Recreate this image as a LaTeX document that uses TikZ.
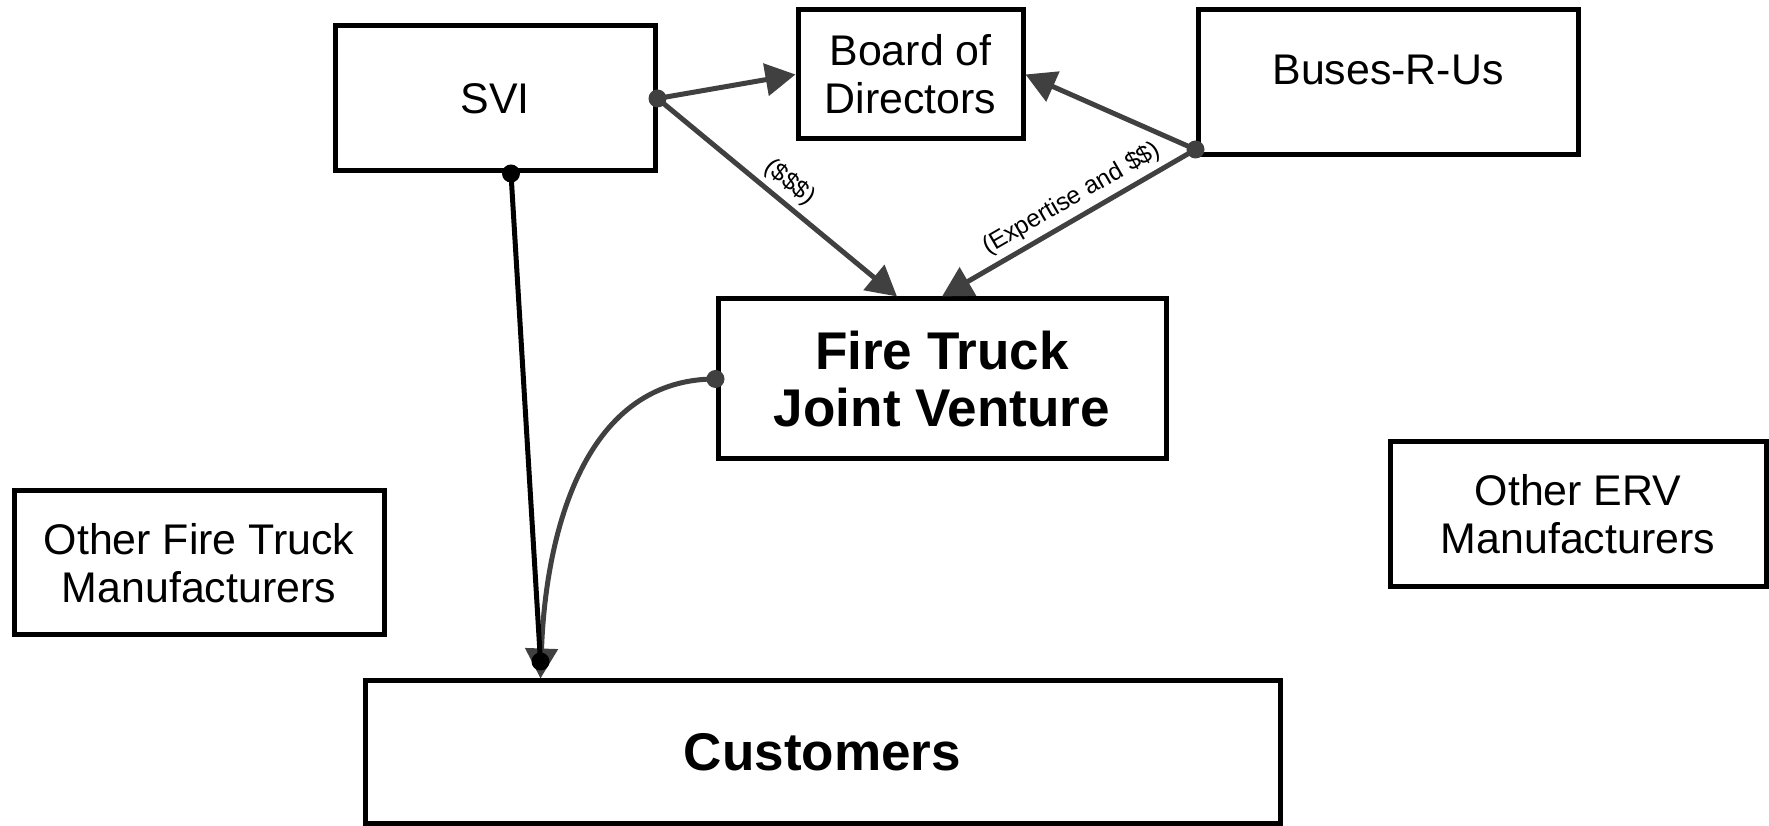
\documentclass[tikz,border=0pt]{standalone}
\usepackage{fontspec}
\setmainfont{Liberation Sans}
\usetikzlibrary{calc,arrows.meta}

\definecolor{linkgray}{HTML}{404040}

\tikzset{
  box/.style={draw=black, line width=0.05cm, inner sep=0pt, align=center,
    font=\fontsize{12.2}{13.6}\selectfont},
  boxtext/.style={inner sep=0pt, font=\fontsize{12.2}{13.6}\selectfont},
  bigbox/.style={box, font=\bfseries\fontsize{15.1}{16.4}\selectfont},
  link/.style={draw=linkgray, line width=0.05cm,
    -{Triangle[length=0.3cm,width=0.32cm]}},
  tag/.style={font=\fontsize{7}{8}\selectfont, sloped, above, inner sep=1.5pt}
}

\begin{document}
\begin{tikzpicture}
\useasboundingbox (0,0) rectangle (17.69,8.26);

 \node [box, minimum width=3.2cm, minimum height=1.45cm] (svi) at (4.95,7.275) {SVI};
 \node [box, minimum width=2.25cm, minimum height=1.29cm] (board) at (9.105,7.515) {Board of\\Directors};
 \node [box, minimum width=3.8cm, minimum height=1.45cm] (buses) at (13.88,7.435) {};
 \node [boxtext] (busestext) at ($(buses.center)+(0,0.125)$) {Buses-R-Us};

 \node [bigbox, minimum width=4.48cm, minimum height=1.6cm] (ftjv) at (9.42,4.47) {Fire Truck\\Joint Venture};

 \node [box, minimum width=3.7cm, minimum height=1.44cm] (otherft) at (1.99,2.63) {Other Fire Truck\\Manufacturers};
 \node [box, minimum width=3.76cm, minimum height=1.45cm] (othererv) at (15.78,3.115) {Other ERV\\Manufacturers};

 \node [bigbox, minimum width=9.15cm, minimum height=1.43cm] (cust) at (8.225,0.735) {Customers};

 % end points off the anchors
 \coordinate (sviout) at ($(svi.south)+(0.16,0)$);
 \coordinate (busout) at ($(buses.south west)+(0,0.08)$);
 \coordinate (ftjvin) at ($(ftjv.north)+(-0.45,0)$);
 \coordinate (custin) at ($(cust.north west)+(1.78,0)$);
 \coordinate (custdot) at ($(custin)+(0,0.17)$);

 \draw [link] (svi.east) -- (board.west);
 \draw [link] (svi.east) -- (ftjvin) node [tag, pos=0.5] {(\$\$\$)};
 \draw [link] (busout) -- (board.east);
 \draw [link] (busout) -- (ftjv.north) node [tag, pos=0.45] {(Expertise and \$\$)};
 \draw [link] (ftjv.west) to [out=180, in=88] (custin);

 \draw [black, line width=0.05cm] (sviout) -- (custdot);

 \fill [linkgray] (svi.east) circle (0.09);
 \fill [linkgray] (busout) circle (0.09);
 \fill [linkgray] (ftjv.west) circle (0.09);
 \fill [black] (sviout) circle (0.09);
 \fill [black] (custdot) circle (0.09);
\end{tikzpicture}
\end{document}
